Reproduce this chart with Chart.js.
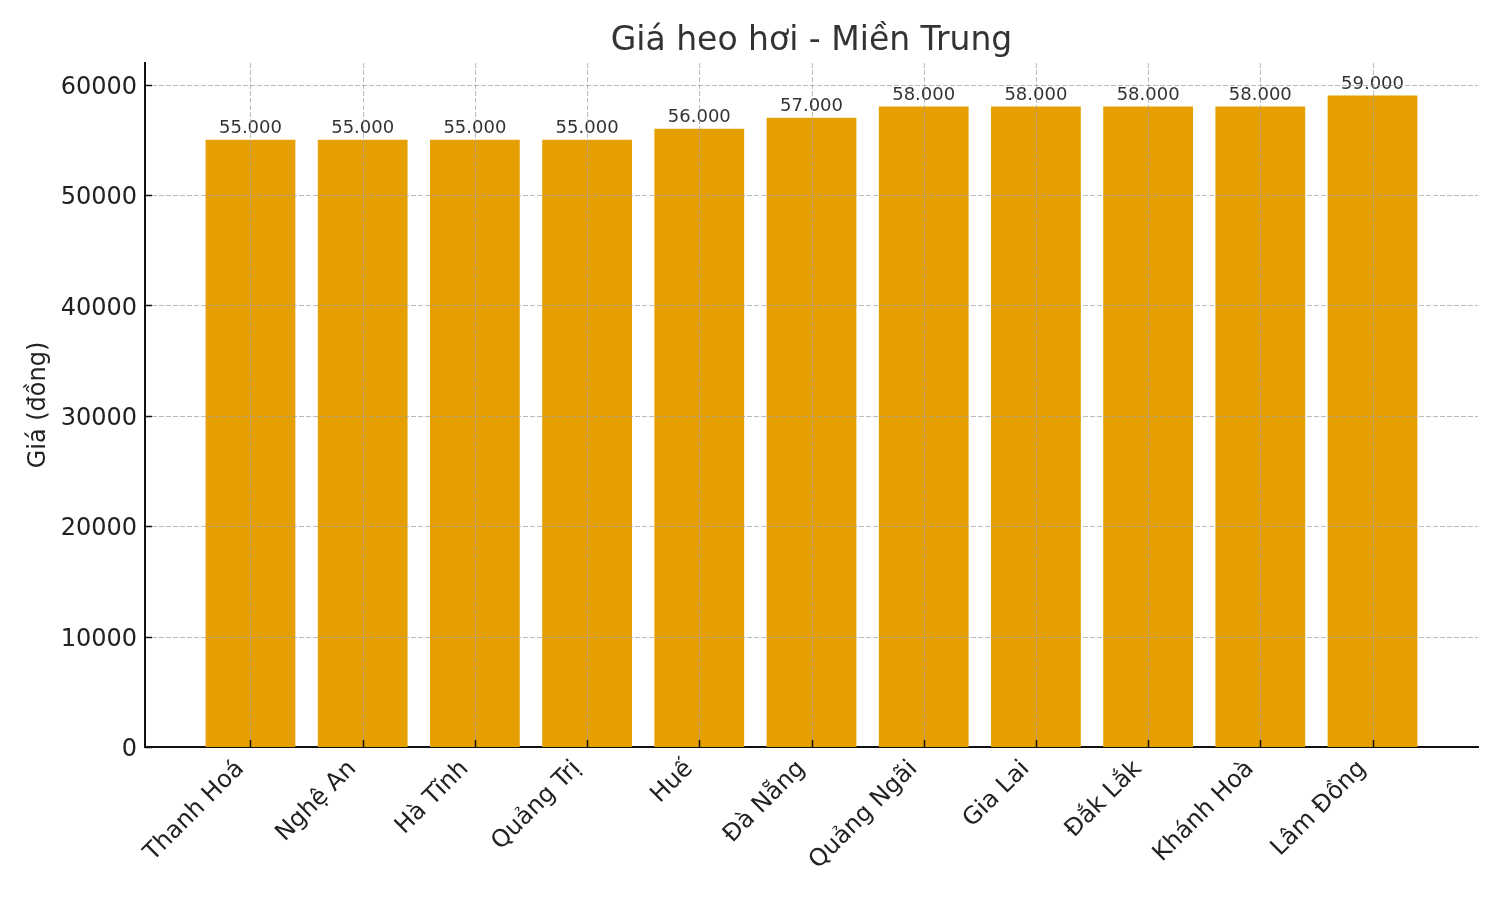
<!DOCTYPE html>
<html>
<head>
<meta charset="utf-8">
<script src="https://cdn.jsdelivr.net/npm/chart.js@4.4.0/dist/chart.umd.min.js"></script>
<style>
html, body { margin: 0; padding: 0; background: #fff; }
</style>
</head>
<body>
<canvas id="myChart" width="1500" height="900"></canvas>
<script>
const chartTitle = 'Giá heo hơi - Miền Trung';
const yLabel = 'Giá (đồng)';
const provinces = ['Thanh Hoá', 'Nghệ An', 'Hà Tĩnh', 'Quảng Trị', 'Huế', 'Đà Nẵng',
    'Quảng Ngãi', 'Gia Lai', 'Đắk Lắk', 'Khánh Hoà', 'Lâm Đồng'];
const prices = [55000, 55000, 55000, 55000, 56000, 57000, 58000, 58000, 58000, 58000, 59000];
const yTicks = [0, 10000, 20000, 30000, 40000, 50000, 60000];

const font = 'DejaVu Sans';

// 55000 -> "55.000"
function fmt(v) {
    return String(v).replace(/\B(?=(\d{3})+(?!\d))/g, '.');
}

// grid sits over the bars like in the original, ticks point inward
const overlay = {
    id: 'overlay',
    afterDatasetsDraw(chart) {
        const ctx = chart.ctx;
        const a = chart.chartArea;
        const x = chart.scales.x, y = chart.scales.y;
        ctx.save();

        // value labels
        ctx.fillStyle = '#333';
        ctx.font = '18px "' + font + '"';
        ctx.textAlign = 'center';
        ctx.textBaseline = 'bottom';
        chart.getDatasetMeta(0).data.forEach((bar, i) => {
            ctx.fillText(fmt(prices[i]), bar.x, bar.y - 2);
        });

        ctx.strokeStyle = 'rgba(160,160,160,0.7)';
        ctx.lineWidth = 1;
        ctx.setLineDash([5, 2]);
        x.ticks.forEach(t => {
            const px = Math.round(x.getPixelForValue(t.value)) + 0.5;
            ctx.beginPath();
            ctx.moveTo(px, a.top);
            ctx.lineTo(px, a.bottom);
            ctx.stroke();
        });
        y.ticks.forEach(t => {
            if (t.value === 0) return;
            const py = Math.round(y.getPixelForValue(t.value)) + 0.5;
            ctx.beginPath();
            ctx.moveTo(a.left, py);
            ctx.lineTo(a.right, py);
            ctx.stroke();
        });
        ctx.setLineDash([]);

        ctx.strokeStyle = '#111';
        ctx.lineWidth = 1.5;
        x.ticks.forEach(t => {
            const px = Math.round(x.getPixelForValue(t.value)) + 0.5;
            ctx.beginPath();
            ctx.moveTo(px, a.bottom);
            ctx.lineTo(px, a.bottom - 7);
            ctx.stroke();
        });
        y.ticks.forEach(t => {
            const py = Math.round(y.getPixelForValue(t.value)) + 0.5;
            ctx.beginPath();
            ctx.moveTo(a.left, py);
            ctx.lineTo(a.left + 7, py);
            ctx.stroke();
        });

        // title centred over the plot
        ctx.fillStyle = '#333';
        ctx.font = '33px "' + font + '"';
        ctx.textAlign = 'center';
        ctx.textBaseline = 'middle';
        ctx.fillText(chartTitle, (a.left + a.right) / 2, 41);
        ctx.restore();
    }
};

let ctx = document.getElementById('myChart').getContext('2d');
let chart = new Chart(ctx, {
    type: 'bar',
    data: {
        datasets: [{
            data: prices.map((v, i) => ({ x: i, y: v })),
            backgroundColor: '#E69F00',
            borderWidth: 0,
            barPercentage: 0.8,
            categoryPercentage: 1.0
        }]
    },
    options: {
        responsive: false,
        animation: false,
        devicePixelRatio: 1,
        layout: { padding: { top: 63, right: 22, left: 0, bottom: 0 } },
        plugins: {
            legend: { display: false },
            tooltip: { enabled: false }
        },
        scales: {
            x: {
                type: 'linear',
                offset: false,
                min: -0.94,
                max: 10.94,
                afterBuildTicks: s => { s.ticks = provinces.map((p, i) => ({ value: i })); },
                afterFit: s => { s.height = 153; },
                grid: { display: false },
                border: { display: true, color: '#111', width: 2 },
                ticks: {
                    autoSkip: false,
                    minRotation: 45,
                    maxRotation: 45,
                    padding: 0,
                    labelOffset: -10,
                    color: '#222',
                    font: { family: font, size: 24 },
                    callback: v => provinces[v]
                }
            },
            y: {
                min: 0,
                max: 61950,
                afterBuildTicks: s => { s.ticks = yTicks.map(v => ({ value: v })); },
                afterFit: s => { s.width = 145; },
                grid: { display: false },
                border: { display: true, color: '#111', width: 2 },
                title: {
                    display: true,
                    text: yLabel,
                    color: '#222',
                    font: { family: font, size: 24 },
                    padding: { top: 24, bottom: 0 }
                },
                ticks: {
                    padding: 0,
                    labelOffset: 3,
                    color: '#222',
                    font: { family: font, size: 24 },
                    callback: v => String(v)
                }
            }
        }
    },
    plugins: [overlay]
});
</script>
</body>
</html>
